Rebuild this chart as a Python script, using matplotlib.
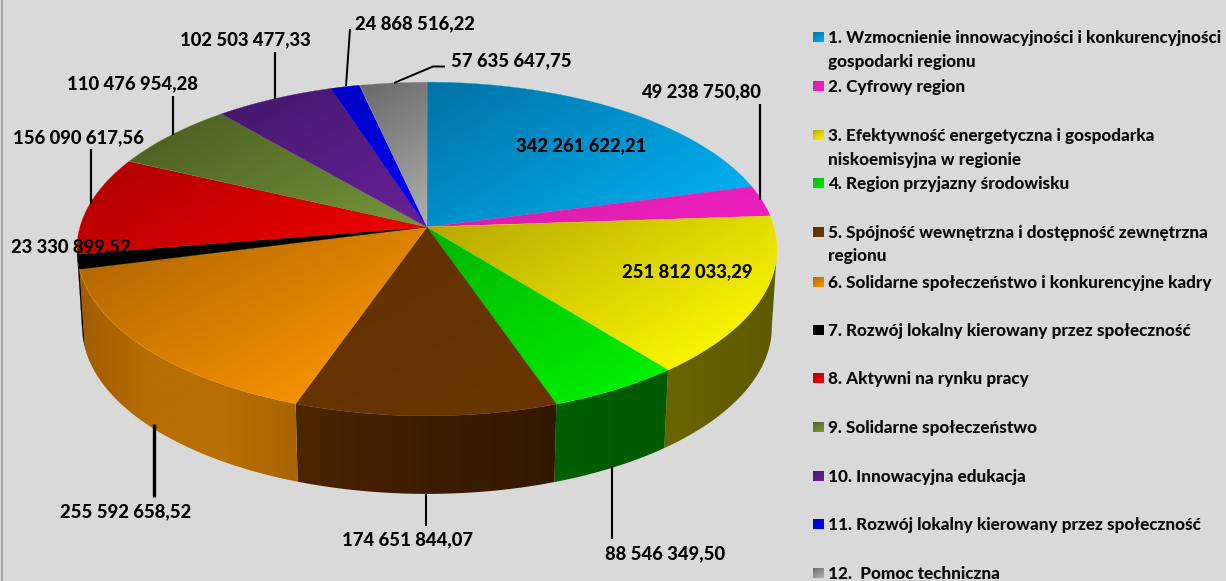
import numpy as np
import matplotlib
matplotlib.use("Agg")
import matplotlib.pyplot as plt
from matplotlib.patches import Polygon
from matplotlib.colors import LinearSegmentedColormap

# ---- data ----
categories = [
    "1. Wzmocnienie innowacyjności i konkurencyjności\ngospodarki regionu",
    "2. Cyfrowy region",
    "3. Efektywność energetyczna i gospodarka\nniskoemisyjna w regionie",
    "4. Region przyjazny środowisku",
    "5. Spójność wewnętrzna i dostępność zewnętrzna\nregionu",
    "6. Solidarne społeczeństwo i konkurencyjne kadry",
    "7. Rozwój lokalny kierowany przez społeczność",
    "8. Aktywni na rynku pracy",
    "9. Solidarne społeczeństwo",
    "10. Innowacyjna edukacja",
    "11. Rozwój lokalny kierowany przez społeczność",
    "12.  Pomoc techniczna",
]
values = [342261622.21, 49238750.80, 251812033.29, 88546349.50, 174651844.07,
          255592658.52, 23330899.52, 156090617.56, 110476954.28, 102503477.33,
          24868516.22, 57635647.75]

# ---- styles ----
top_dark = ["#0072A5", "#D81FA8", "#B8A800", "#00B400", "#633200", "#B56800",
            "#000000", "#B40000", "#4F6423", "#46196E", "#0000C4", "#6A6A6A"]
top_bright = ["#00AEF0", "#EE20C0", "#F8F400", "#00F000", "#693600", "#F59200",
              "#000000", "#F00000", "#76963A", "#682099", "#0000FA", "#B0B0B0"]
side_stops = [
    ["#000000", "#000000"], ["#000000", "#000000"],
    ["#6B6500", "#635E00", "#5F5A00"], ["#005E00", "#005A00"],
    ["#4C2500", "#3C1C00", "#331800"], ["#A05E00", "#B86E00", "#B86E00", "#A86600"],
    ["#0A0500", "#000000"], ["#600000", "#600000"], ["#333", "#333"],
    ["#222", "#222"], ["#000060", "#000060"], ["#555", "#555"],
]
BG = "#D9D9D9"
FONT = "Lato"

# label layout: centre in pixels, then leader polyline in pixels
label_pos = [(581, 146), (701, 92), (687, 272), (665, 554), (408, 540), (126, 512),
             (71, 247), (78, 138), (132, 84), (245, 40), (415, 24), (511, 61)]
leaders = [None, [(760, 104), (760, 200)], None, [(612, 466), (612, 539)],
           [(426, 494), (426, 526)], [(153.5, 424), (153.5, 497)], None,
           [(91, 149), (91, 204)], [(173, 96), (173, 135)], [(275, 52), (275, 99)],
           [(350, 29), (346, 86)], [(394, 83), (433, 66.5), (445, 66.5)]]
leader_lw = [0, 1.6, 0, 1.5, 1.5, 2.4, 0, 1.6, 1.6, 1.6, 1.4, 1.4]
legend_y = [37, 86, 135, 183, 232, 282, 330, 378, 427, 476, 524, 573]
LINE_H = 23.5

# pie geometry (pixels)
CX, CY, RX, RY, K = 427.0, 227.0, 347.0, 164.0, 0.1317
DEPTH, SHRINK = 78.0, 0.985

fig = plt.figure(figsize=(12.26, 5.81), dpi=100, facecolor=BG)
ax = fig.add_axes([0, 0, 1, 1])
ax.set_facecolor(BG)
ax.axis("off")


def project(theta_deg):
    t = np.radians(theta_deg)
    u, v = np.sin(t), np.cos(t)
    s = 1.0 / (1.0 + K * v)
    return CX + RX * u * s, CY - RY * v * s


def drop(x, y):
    return CX + (x - CX) * SHRINK, y + DEPTH


def fill_gradient(poly, stops, direction=(0.5, 0.85), zorder=2):
    poly = np.asarray(poly)
    x0, y0 = poly.min(axis=0)
    x1, y1 = poly.max(axis=0)
    nx, ny = max(int(x1 - x0) + 2, 2), max(int(y1 - y0) + 2, 2)
    X, Y = np.meshgrid(np.linspace(x0, x1, nx), np.linspace(y0, y1, ny))
    proj = X * direction[0] + Y * direction[1]
    pv = poly[:, 0] * direction[0] + poly[:, 1] * direction[1]
    g = (proj - pv.min()) / max(pv.max() - pv.min(), 1e-6)
    cmap = LinearSegmentedColormap.from_list("g", stops)
    im = ax.imshow(g, extent=(x0, x1, y1, y0), cmap=cmap, vmin=0, vmax=1,
                   aspect="auto", interpolation="bilinear", zorder=zorder)
    patch = Polygon(poly, closed=True, transform=ax.transData, fc="none", ec="none")
    ax.add_patch(patch)
    im.set_clip_path(patch)


vals = np.array(values)
edges = np.concatenate([[0], np.cumsum(vals) / vals.sum() * 360.0])
sil_right = np.degrees(np.arccos(-K))
sil_left = 360.0 - sil_right

# front wall
for i in range(len(vals)):
    a, b = max(edges[i], sil_right), min(edges[i + 1], sil_left)
    if b <= a:
        continue
    th = np.linspace(a, b, 80)
    x, y = project(th)
    xb, yb = drop(x, y)
    poly = np.column_stack([np.r_[x, xb[::-1]], np.r_[y, yb[::-1]]])
    fill_gradient(poly, side_stops[i], direction=(1, 0), zorder=2)

# top face
for i in range(len(vals)):
    th = np.linspace(edges[i], edges[i + 1], 120)
    x, y = project(th)
    poly = np.column_stack([np.r_[CX, x], np.r_[CY, y]])
    fill_gradient(poly, [top_dark[i], top_bright[i]], zorder=3)
    ax.add_patch(Polygon(poly, closed=True, fc="none", ec=top_bright[i], lw=0.25, zorder=3))

# leaders and value labels
for i, v in enumerate(values):
    if leaders[i]:
        pts = np.array(leaders[i])
        ax.plot(pts[:, 0], pts[:, 1], color="black", lw=leader_lw[i], zorder=4,
                solid_capstyle="butt", solid_joinstyle="miter")
    whole, frac = f"{v:.2f}".split(".")
    txt = f"{int(whole):,}".replace(",", " ") + "," + frac
    ax.text(label_pos[i][0], label_pos[i][1], txt, ha="center", va="center",
            fontsize=13.3, fontweight=900, family=FONT, color="black", zorder=5)

# legend
for i, cat in enumerate(categories):
    yc = legend_y[i]
    sw = [(813, yc - 5.5), (824, yc - 5.5), (824, yc + 5.5), (813, yc + 5.5)]
    fill_gradient(sw, [top_dark[i], top_bright[i]], direction=(0.5, 0.85), zorder=3)
    for j, line in enumerate(cat.split("\n")):
        ax.text(828, yc + 1 + j * LINE_H, line, ha="left", va="center", fontsize=12.3,
                fontweight=900, family=FONT, color="#0A0A0A", zorder=5)

# left frame line
ax.plot([2, 2], [0, 581], color="#A6A6A6", lw=1.6, zorder=6, solid_capstyle="butt")

ax.set_xlim(0, 1226)
ax.set_ylim(581, 0)
fig.savefig("out.png", dpi=100, facecolor=BG)
